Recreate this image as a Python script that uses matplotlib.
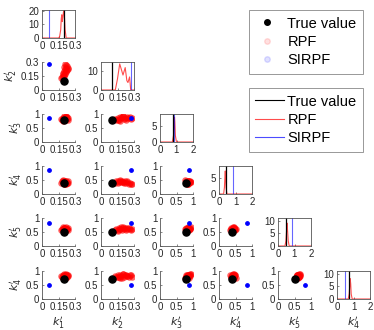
import numpy as np
import matplotlib
matplotlib.use('Agg')
import matplotlib.pyplot as plt
from matplotlib.lines import Line2D

plt.rcParams['font.family'] = ['Liberation Sans', 'DejaVu Sans']
plt.rcParams['mathtext.fontset'] = 'dejavusans'

# ── data ──────────────────────────────────────────────────────
names = [r"$k_1'$", r"$k_2'$", r"$k_3'$", r"$k_4'$", r"$k_5'$", r"$k_4'$"]
true_val = [0.20, 0.10, 0.80, 0.40, 0.50, 0.70]
sirpf_val = [0.065, 0.275, 0.87, 0.86, 0.82, 0.50]

# RPF particles (k1..k6)
k1 = [.18, .19, .20, .21, .19, .22, .20, .23, .21, .24, .22, .20, .23, .22, .21, .19, .17, .22, .20, .24]
k2 = [.14, .15, .16, .17, .18, .19, .20, .21, .22, .23, .24, .25, .26, .27, .28, .17, .13, .20, .15, .24]
k3 = [.80, .86, .78, .90, .84, .88, .92, .82, .86, .80, .90, .84, .88, .82, .86, .76, .83, .94, .79, .86]
k4 = [.45, .47, .44, .48, .42, .46, .43, .40, .45, .38, .42, .36, .40, .34, .37, .50, .41, .44, .38, .46]
k5 = [.62, .58, .65, .60, .67, .56, .63, .60, .66, .58, .62, .64, .60, .58, .62, .60, .57, .68, .55, .64]
k6 = [.80, .84, .78, .86, .82, .76, .88, .80, .84, .86, .82, .78, .84, .86, .80, .74, .83, .88, .79, .82]
particles = [k1, k2, k3, k4, k5, k6]

# RPF marginal densities (x, y)
dens_x = [
    [0, .15, .16, .17, .175, .18, .185, .19, .195, .20, .205, .21, .22, .3],
    [0, .13, .15, .17, .19, .20, .22, .235, .245, .26, .27, .3],
    [0, .75, .82, .86, .88, .90, .93, 1.0, 2.0],
    [0, .28, .33, .36, .38, .40, .43, .48, 2.0],
    [0, .42, .48, .52, .55, .58, .62, .68, 2.0],
    [0, .68, .74, .78, .80, .83, .86, .92, 2.0],
]
dens_y = [
    [0, 0, 1, 6, 14, 17, 12, 15, 19, 20, 14, 6, 0, 0],
    [0, 0, 6, 14, 10, 8, 12, 5, 4, 7, 0, 0],
    [0, 0, 2, 6, 7.5, 6, 2, 0, 0],
    [0, 0, 2, 5.5, 7, 5, 2, 0, 0],
    [0, 0, 2, 6, 9, 6, 2, 0, 0],
    [0, 0, 2, 6, 8, 6, 2, 0, 0],
]

scat_lim = [0.3, 0.3, 1, 1, 1, 1]
scat_ticks = [[0, 0.15, 0.3], [0, 0.15, 0.3], [0, 0.5, 1], [0, 0.5, 1], [0, 0.5, 1], [0, 0.5, 1]]
scat_lbls = [['0', '0.15', '0.3'], ['0', '0.15', '0.3'], ['0', '0.5', '1'],
             ['0', '0.5', '1'], ['0', '0.5', '1'], ['0', '0.5', '1']]
diag_xlim = [0.3, 0.3, 2, 2, 2, 2]
diag_ylim = [20.5, 15, 8.5, 8.5, 11, 11]
diag_yticks = [[0, 10, 20], [0, 10], [0, 5], [0, 5], [0, 5, 10], [0, 5, 10]]

# ── figure ────────────────────────────────────────────────────
W, H = 374, 330
fig = plt.figure(figsize=(W / 100, H / 100), dpi=100)
lefts = [42, 101, 160, 219, 278, 337]
tops = [10, 62, 114, 166, 218, 271]
aw, ah = 33, 28
AX = '#555555'
TXT = '#262626'

def style(ax, box):
    for s in ax.spines.values():
        s.set_color(AX)
        s.set_linewidth(0.6)
    if not box:
        ax.spines['top'].set_visible(False)
        ax.spines['right'].set_visible(False)
    ax.tick_params(direction='in', length=1.5, width=0.5, colors=AX,
                   labelcolor=TXT, labelsize=7, pad=2)

for i in range(6):
    for j in range(i + 1):
        ax = fig.add_axes([lefts[j] / W, 1 - (tops[i] + ah) / H, aw / W, ah / H])
        if i == j:
            style(ax, True)
            ax.plot(dens_x[i], dens_y[i], color='red', lw=0.8, alpha=0.7)
            ax.axvline(sirpf_val[i], color='blue', lw=0.8, alpha=0.6)
            ax.axvline(true_val[i], color='black', lw=0.9)
            ax.set_xlim(0, diag_xlim[i])
            ax.set_ylim(0, diag_ylim[i])
            ax.set_yticks(diag_yticks[i])
            ax.set_yticklabels([str(t) for t in diag_yticks[i]])
            if diag_xlim[i] == 2:
                ax.set_xticks([0, 1, 2])
                ax.set_xticklabels(['0', '1', '2'])
            else:
                ax.set_xticks(scat_ticks[i])
                ax.set_xticklabels(scat_lbls[i])
        else:
            style(ax, False)
            ax.scatter(particles[j], particles[i], s=22, color='red',
                       alpha=0.6, linewidths=0, zorder=2)
            ax.scatter([sirpf_val[j]], [sirpf_val[i]], s=6, color='blue', zorder=3)
            ax.scatter([true_val[j]], [true_val[i]], s=26, color='black', zorder=4)
            ax.set_xlim(0, scat_lim[j])
            ax.set_ylim(0, scat_lim[i])
            ax.set_xticks(scat_ticks[j])
            ax.set_xticklabels(scat_lbls[j])
            ax.set_yticks(scat_ticks[i])
            ax.set_yticklabels(scat_lbls[i])
        if j == 0 and i > 0:
            ax.set_ylabel(names[i], fontsize=8, color=TXT, labelpad=1)
        if i == 5:
            ax.set_xlabel(names[j], fontsize=8, color=TXT, labelpad=2)

# legends
h1 = [Line2D([], [], ls='none', marker='o', ms=4, color='black'),
      Line2D([], [], ls='none', marker='o', ms=4, color='red', alpha=0.12),
      Line2D([], [], ls='none', marker='o', ms=4, color='blue', alpha=0.12)]
leg1 = fig.legend(h1, ['True value', 'RPF', 'SIRPF'], loc='upper right',
                  bbox_to_anchor=(363 / W, 1 - 10 / H), fontsize=10.5,
                  fancybox=False, edgecolor='#888888', framealpha=1,
                  borderpad=0.45, labelspacing=0.3, handletextpad=0.6,
                  handlelength=1.6, borderaxespad=0)
leg1.get_frame().set_linewidth(0.6)
h2 = [Line2D([], [], color='black', lw=0.8),
      Line2D([], [], color='red', lw=0.8, alpha=0.7),
      Line2D([], [], color='blue', lw=0.8, alpha=0.7)]
leg2 = fig.legend(h2, ['True value', 'RPF', 'SIRPF'], loc='upper right',
                  bbox_to_anchor=(363 / W, 1 - 88 / H), fontsize=10.5,
                  fancybox=False, edgecolor='#888888', framealpha=1,
                  borderpad=0.45, labelspacing=0.3, handletextpad=0.2,
                  handlelength=2.0, borderaxespad=0)
leg2.get_frame().set_linewidth(0.6)

fig.savefig('out.png', dpi=100)
